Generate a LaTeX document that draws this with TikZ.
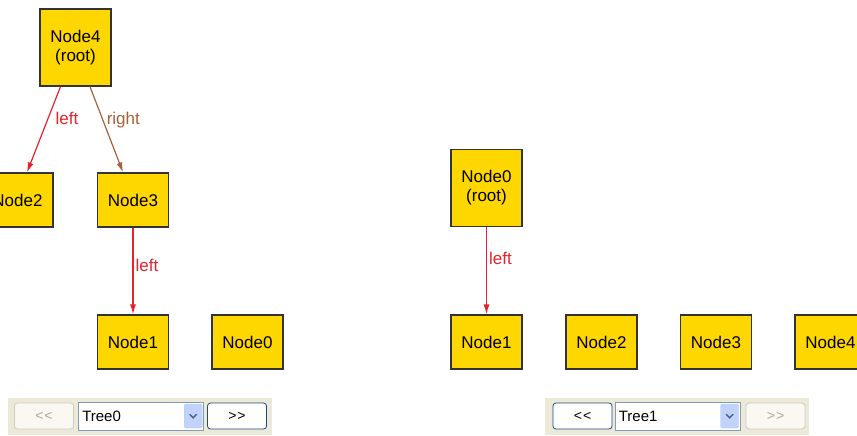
\documentclass[tikz,border=0pt]{standalone}
\usepackage{fontspec}
\setmainfont{Liberation Sans}
\usetikzlibrary{positioning,arrows.meta}

\definecolor{nodefill}{HTML}{FFD700}
\definecolor{edgered}{HTML}{E8222D}
\definecolor{edgebrown}{HTML}{A5613A}
\definecolor{panelbg}{HTML}{ECE9D8}
\definecolor{btnblue}{HTML}{1C4A7C}
\definecolor{btnoff}{HTML}{CFCDC0}
\definecolor{txtoff}{HTML}{ACA899}
\definecolor{combobd}{HTML}{7F9DB9}
\definecolor{dropfill}{HTML}{C1D3FB}
\definecolor{chevron}{HTML}{4D6185}

\newcommand{\prevtxt}{<\kern1pt<}
\newcommand{\nexttxt}{>\kern1pt>}

\begin{document}
\begin{tikzpicture}[x=1pt,y=-1pt,
  font=\fontsize{17}{19}\selectfont,
  >={Latex[length=10pt,width=6pt]},
  tnode/.style={draw=black!80,line width=1.3pt,fill=nodefill,minimum width=71pt,minimum height=54pt,inner sep=0pt,align=center},
  troot/.style={tnode,minimum height=77pt},
  redge/.style={->,draw=edgered,line width=1.2pt},
  bedge/.style={->,draw=edgebrown,line width=1.2pt},
  elab/.style={inner sep=0pt,anchor=west},
  panel/.style={fill=panelbg,minimum width=264pt,minimum height=37pt,inner sep=0pt},
  btn/.style={draw=btnblue,line width=0.8pt,rounded corners=3pt,fill=white!95!panelbg,minimum width=59pt,minimum height=26pt,inner sep=0pt,font=\fontsize{14}{16}\selectfont},
  btnoff/.style={btn,draw=btnoff,fill=white!70!panelbg,text=txtoff},
  combo/.style={draw=combobd,line width=0.8pt,fill=white,minimum width=125pt,minimum height=28pt,inner sep=0pt},
  combotxt/.style={inner sep=0pt,font=\fontsize{15}{17}\selectfont},
  drop/.style={fill=dropfill,draw=dropfill!80!combobd,rounded corners=1.5pt,minimum width=18pt,minimum height=24pt,inner sep=0pt},
  chev/.style={draw=chevron,line width=1.4pt}]
  \useasboundingbox (0,0) rectangle (857,436);

  % tree 0
  \node[troot] (l4) at (75.5,47.5) {Node4\\(root)};
  \node[tnode] (l2) at (17.5,200)  {Node2};
  \node[tnode] (l3) at (133,200)   {Node3};
  \node[tnode] (l1) at (133,342)   {Node1};
  \node[tnode] (l0) at (247.5,342) {Node0};
  \draw[redge] ([xshift=-15pt]l4.south) -- node[elab,pos=0.37,xshift=7pt,text=edgered] (l4l2) {left} ([xshift=9.5pt]l2.north);
  \draw[bedge] ([xshift=14.5pt]l4.south) -- node[elab,pos=0.37,xshift=4pt,yshift=-2pt,text=edgebrown] (l4l3) {right} ([xshift=-10pt]l3.north);
  \draw[redge] (l3) -- node[elab,pos=0.44,xshift=2pt,text=edgered] (l3l1) {left} (l1);

  % tree 1
  \node[troot] (r0) at (486.5,188) {Node0\\(root)};
  \node[tnode] (r1) at (486.5,342) {Node1};
  \node[tnode] (r2) at (601.5,342) {Node2};
  \node[tnode] (r3) at (716,342)   {Node3};
  \node[tnode] (r4) at (830.5,342) {Node4};
  \draw[redge] (r0) -- node[elab,pos=0.36,xshift=2pt,text=edgered] (r0r1) {left} (r1);

  % controls
  \node[panel]  (lpanel) at (140,416.5) {};
  \node[btnoff] (lprev)  at (44,416)    {\prevtxt};
  \node[combo]  (lcombo) at (141,416)   {};
  \node[combotxt,right=4pt of lcombo.west] (ltree) {Tree0};
  \node[drop,left=1.5pt of lcombo.east] (ldrop) {};
  \draw[chev] ([xshift=-3.5pt,yshift=1.8pt]ldrop.center) -- ([yshift=-1.8pt]ldrop.center) -- ([xshift=3.5pt,yshift=1.8pt]ldrop.center);
  \node[btn]    (lnext)  at (237,416)   {\nexttxt};

  \node[panel]  (rpanel) at (676.5,416.5) {};
  \node[btn]    (rprev)  at (582.5,416) {\prevtxt};
  \node[combo]  (rcombo) at (677.5,416) {};
  \node[combotxt,right=4pt of rcombo.west] (rtree) {Tree1};
  \node[drop,left=1.5pt of rcombo.east] (rdrop) {};
  \draw[chev] ([xshift=-3.5pt,yshift=1.8pt]rdrop.center) -- ([yshift=-1.8pt]rdrop.center) -- ([xshift=3.5pt,yshift=1.8pt]rdrop.center);
  \node[btnoff] (rnext)  at (775.5,416) {\nexttxt};
\end{tikzpicture}
\end{document}
